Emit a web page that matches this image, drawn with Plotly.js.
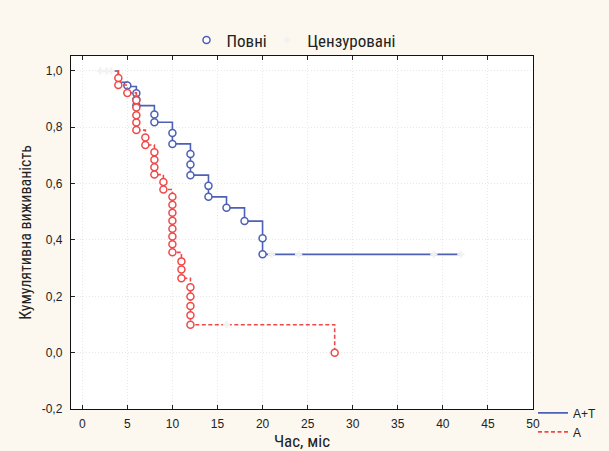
<!DOCTYPE html>
<html>
<head>
<meta charset="utf-8">
<script src="https://cdn.plot.ly/plotly-3.0.1.min.js"></script>
<style>
html,body{margin:0;padding:0;background:#fcf8ef;}
#chart{width:609px;height:451px;}
</style>
</head>
<body>
<div id="chart"></div>
<script>
// ---- data ----
// Kaplan-Meier step curves (time in months, cumulative survival)
var blueStepX = [2, 4, 5, 6, 8, 10, 12, 14, 16, 18, 20, 42];
var blueStepY = [1.0, 0.960, 0.945, 0.877, 0.818, 0.741, 0.630, 0.553, 0.514, 0.467, 0.349, 0.349];
var redStepX = [3.2, 4, 5, 6, 7, 8, 9, 10, 11, 12, 28];
var redStepY = [1.0, 0.950, 0.922, 0.790, 0.737, 0.632, 0.579, 0.356, 0.264, 0.099, 0.0];

// complete (event) observations
var blueEventX = [5, 6, 6, 6, 8, 8, 10, 10, 12, 12, 12, 14, 14, 16, 18, 20, 20];
var blueEventY = [0.948, 0.921, 0.899, 0.877, 0.845, 0.818, 0.780, 0.741, 0.705, 0.668, 0.630, 0.592, 0.553, 0.514, 0.467, 0.406, 0.349];
var redEventX = [4, 4, 5, 6, 6, 6, 6, 6, 7, 7, 8, 8, 8, 8, 9, 9,
                 10, 10, 10, 10, 10, 10, 10, 10, 11, 11, 11, 12, 12, 12, 12, 12, 28];
var redEventY = [0.975, 0.950, 0.922, 0.896, 0.870, 0.843, 0.817, 0.790, 0.764, 0.737,
                 0.711, 0.685, 0.658, 0.632, 0.606, 0.579,
                 0.553, 0.525, 0.497, 0.468, 0.440, 0.412, 0.385, 0.356,
                 0.324, 0.295, 0.264, 0.232, 0.199, 0.166, 0.133, 0.099, 0.0];

// censored observations
var blueCensX = [2, 2.7, 21, 24, 39, 42];
var blueCensY = [1.0, 1.0, 0.349, 0.349, 0.349, 0.349];
var redCensX = [3.2, 16];
var redCensY = [1.0, 0.099];

// axis ticks
var xTickVals = [0, 5, 10, 15, 20, 25, 30, 35, 40, 45, 50];
var yTickVals = [-0.2, 0, 0.2, 0.4, 0.6, 0.8, 1.0];
var yTickText = ['-0,2', '0,0', '0,2', '0,4', '0,6', '0,8', '1,0'];

var seriesNames = ['A+T', 'A'];
var legendNames = ['Повні', 'Цензуровані'];

// ---- styles ----
var BLUE = '#4c60b6';
var RED = '#f04848';
var NARROW = '"Liberation Sans Narrow", "Roboto Condensed", "Arial Narrow", Roboto, sans-serif';
var TICKFONT = '"Liberation Sans", Arial, sans-serif';

var traces = [
  {x: blueStepX, y: blueStepY, mode: 'lines', line: {shape: 'hv', color: BLUE, width: 1.6},
   name: seriesNames[0], legend: 'legend2', hoverinfo: 'skip'},
  {x: blueEventX, y: blueEventY, mode: 'markers',
   marker: {symbol: 'circle', size: 7, color: '#ffffff', line: {color: BLUE, width: 1.5}},
   name: legendNames[0], legend: 'legend', showlegend: true},
  {x: redStepX, y: redStepY, mode: 'lines', line: {shape: 'hv', color: RED, width: 1.6, dash: '4px,2.5px'},
   name: seriesNames[1], legend: 'legend2', hoverinfo: 'skip'},
  {x: redEventX, y: redEventY, mode: 'markers',
   marker: {symbol: 'circle', size: 7, color: '#ffffff', line: {color: RED, width: 1.5}},
   name: legendNames[0], showlegend: false},
  {x: blueCensX.concat(redCensX), y: blueCensY.concat(redCensY), mode: 'markers',
   marker: {symbol: 'cross', size: 6, color: '#f2f2f2', line: {width: 0}},
   name: legendNames[1], legend: 'legend3', showlegend: true}
];

var topLegend = function (xpos) {
  return {
    orientation: 'h', x: xpos, xanchor: 'left', y: 1.044, yanchor: 'middle',
    bgcolor: 'rgba(0,0,0,0)', font: {family: NARROW, size: 17, color: '#222'},
    itemwidth: 30
  };
};

var layout = {
  width: 609, height: 451,
  paper_bgcolor: '#fcf8ef',
  plot_bgcolor: '#ffffff',
  separators: ', ',
  margin: {l: 70.5, r: 75.7, t: 55.7, b: 42, pad: 0, autoexpand: false},
  font: {family: TICKFONT, color: '#222222', size: 12},
  xaxis: {
    range: [-1.25, 50], tickvals: xTickVals, ticks: 'inside', ticklen: 4, tickcolor: '#222',
    showline: true, linecolor: '#111', linewidth: 1.2, mirror: 'ticks',
    showgrid: true, gridcolor: '#e8e8e8', griddash: '1px,2px', gridwidth: 1, zeroline: false,
    tickfont: {family: TICKFONT, size: 12, color: '#222'}, ticklabelstandoff: 3,
    title: {text: 'Час, міс', font: {family: NARROW, size: 17, color: '#222'}, standoff: 4}
  },
  yaxis: {
    range: [-0.2, 1.053], tickvals: yTickVals, ticktext: yTickText, ticks: 'inside', ticklen: 4, tickcolor: '#222',
    showline: true, linecolor: '#111', linewidth: 1.2, mirror: true,
    showgrid: true, gridcolor: '#e8e8e8', griddash: '1px,2px', gridwidth: 1, zeroline: false,
    tickfont: {family: TICKFONT, size: 12, color: '#222'}, ticklabelstandoff: 5,
    title: {text: 'Кумулятивна виживаність', font: {family: NARROW, size: 16, color: '#222'}, standoff: 6}
  },
  legend: topLegend(0.25),
  legend3: topLegend(0.4246),
  legend2: {
    orientation: 'v', x: 1.0, xanchor: 'left', y: 0.03, yanchor: 'top',
    bgcolor: 'rgba(0,0,0,0)', font: {family: TICKFONT, size: 12, color: '#222'},
    itemwidth: 30, tracegroupgap: 0
  },
  showlegend: true
};

Plotly.newPlot('chart', traces, layout, {displayModeBar: false, staticPlot: true});
</script>
</body>
</html>
